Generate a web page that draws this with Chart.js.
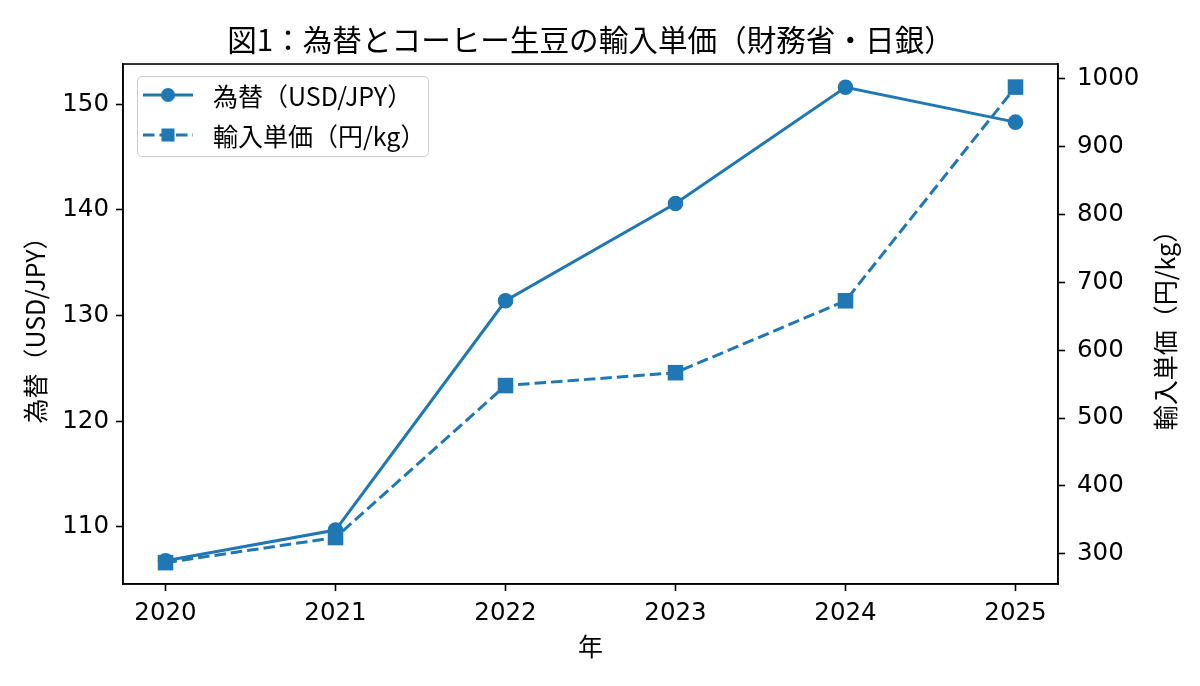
<!DOCTYPE html>
<html><head><meta charset="utf-8">
<script src="https://cdn.jsdelivr.net/npm/chart.js@4"></script>
<style>
html,body{margin:0;padding:0;background:#fff;}
#wrap{position:relative;width:1200px;height:686px;}
canvas{display:block;}
#legend{position:absolute;left:137px;top:76px;width:290px;height:79px;border:1px solid #cccccc;border-radius:5px;background:rgba(255,255,255,0.8);font-family:"Noto Sans CJK JP";font-size:25px;color:#000;}
.row{position:absolute;left:0;width:288px;height:30px;}
.row svg{position:absolute;left:5px;top:0;}
.row span{position:absolute;left:75px;top:0;white-space:nowrap;line-height:30px;}
</style></head>
<body>
<div id="wrap">
<canvas id="c" width="1200" height="686"></canvas>
<div id="legend">
  <div class="row" style="top:3px;"><svg width="52" height="30"><line x1="0" y1="15" x2="50" y2="15" stroke="#1f77b4" stroke-width="3"/><circle cx="25" cy="15" r="7" fill="#1f77b4"/></svg><span id="lg1"></span></div>
  <div class="row" style="top:43px;"><svg width="52" height="30"><line x1="0" y1="15" x2="50" y2="15" stroke="#1f77b4" stroke-width="3" stroke-dasharray="11.5 5"/><rect x="18.5" y="8.5" width="13" height="13" fill="#1f77b4"/></svg><span id="lg2"></span></div>
</div>
</div>
<script>
const chartTitle = '図1：為替とコーヒー生豆の輸入単価（財務省・日銀）';
const xTitle = '年';
const leftTitle = '為替（USD/JPY）';
const rightTitle = '輸入単価（円/kg）';
const seriesNames = ['為替（USD/JPY）', '輸入単価（円/kg）'];
const years = [2020, 2021, 2022, 2023, 2024, 2025];
const usdJpy = [106.8, 109.7, 131.4, 140.6, 151.6, 148.3];
const importPrice = [287, 324, 548, 567, 673, 988];
const leftTicks = [110, 120, 130, 140, 150];
const rightTicks = [300, 400, 500, 600, 700, 800, 900, 1000];

document.getElementById('lg1').textContent = seriesNames[0];
document.getElementById('lg2').textContent = seriesNames[1];

const FONT = '"Noto Sans CJK JP"';
const NUMFONT = '"DejaVu Sans"';
Chart.defaults.font.family = FONT;
Chart.defaults.color = '#000';
const BLUE = '#1f77b4';

const framePlugin = {
  id: 'frame',
  afterDatasetsDraw(chart) {
    const a = chart.chartArea, ctx = chart.ctx;
    ctx.save();
    ctx.strokeStyle = '#000';
    ctx.lineWidth = 1.6;
    ctx.strokeRect(a.left, a.top, a.right - a.left, a.bottom - a.top);
    ctx.restore();
  },
  afterDraw(chart) {
    const a = chart.chartArea, ctx = chart.ctx;
    ctx.save();
    ctx.translate(1165, (a.top + a.bottom) / 2);
    ctx.rotate(-Math.PI / 2);
    ctx.textAlign = 'center';
    ctx.textBaseline = 'middle';
    ctx.fillStyle = '#000';
    ctx.font = '25px ' + FONT;
    ctx.fillText(rightTitle, 0, 0);
    ctx.restore();
  }
};

const tickStyle = { font: { size: 24.5, family: NUMFONT }, color: '#000', padding: 7, autoSkip: false, maxRotation: 0, callback: v => String(v) };
const gridStyle = { drawOnChartArea: false, tickLength: 7, tickColor: '#000', tickWidth: 1.6 };
const borderStyle = { color: '#000', width: 1.6 };

new Chart(document.getElementById('c'), {
  type: 'line',
  data: {
    datasets: [
      {
        label: seriesNames[0],
        data: years.map((y, i) => ({ x: y, y: usdJpy[i] })),
        yAxisID: 'y',
        borderColor: BLUE, backgroundColor: BLUE,
        borderWidth: 3, tension: 0,
        pointStyle: 'circle', pointRadius: 7.8, pointBorderWidth: 0,
        pointBackgroundColor: BLUE,
        order: 1
      },
      {
        label: seriesNames[1],
        data: years.map((y, i) => ({ x: y, y: importPrice[i] })),
        yAxisID: 'y2',
        borderColor: BLUE, backgroundColor: BLUE,
        borderWidth: 3, borderDash: [11.5, 5], tension: 0,
        pointStyle: 'rect', pointRadius: 11, pointBorderWidth: 0,
        pointBackgroundColor: BLUE,
        order: 0
      }
    ]
  },
  options: {
    responsive: false,
    devicePixelRatio: 1,
    animation: false,
    events: [],
    layout: { padding: 0 },
    plugins: {
      legend: { display: false },
      tooltip: { enabled: false },
      title: {
        display: true, text: chartTitle, fullSize: false,
        font: { size: 29.6, weight: 'normal' }, color: '#000',
        padding: { top: 22, bottom: 6.5 }
      }
    },
    scales: {
      x: {
        type: 'linear', position: 'bottom', min: 2019.75, max: 2025.25,
        afterBuildTicks: s => { s.ticks = years.map(v => ({ value: v })); },
        ticks: Object.assign({}, tickStyle, { padding: 8 }),
        grid: gridStyle, border: borderStyle,
        title: { display: true, text: xTitle, font: { size: 25 }, color: '#000', padding: { top: 0, bottom: 25 } },
        afterFit: s => { s.height = 102; }
      },
      y: {
        type: 'linear', position: 'left', min: 104.6, max: 153.8,
        afterBuildTicks: s => { s.ticks = leftTicks.map(v => ({ value: v })); },
        ticks: tickStyle, grid: gridStyle, border: borderStyle,
        title: { display: true, text: leftTitle, font: { size: 25 }, color: '#000', padding: { top: 20, bottom: 0 } },
        afterFit: s => { s.width = 123; }
      },
      y2: {
        type: 'linear', position: 'right', min: 255.5, max: 1022,
        afterBuildTicks: s => { s.ticks = rightTicks.map(v => ({ value: v })); },
        ticks: Object.assign({}, tickStyle, { padding: 12 }), grid: gridStyle, border: borderStyle,
        afterFit: s => { s.width = 142; }
      }
    }
  },
  plugins: [framePlugin]
});
</script>
</body></html>
